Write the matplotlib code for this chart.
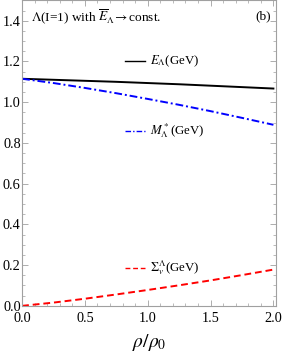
import numpy as np
import matplotlib
matplotlib.use("Agg")
import matplotlib.pyplot as plt
from matplotlib.ticker import MultipleLocator

plt.rcParams['font.family'] = ['Liberation Serif', 'DejaVu Serif']
plt.rcParams['mathtext.fontset'] = 'stix'

# density ratio rho/rho0 and energies (GeV)
rho = [0.0, 0.25, 0.5, 0.75, 1.0, 1.25, 1.5, 1.75, 2.0]
E_lam = [1.115, 1.110, 1.105, 1.100, 1.094, 1.088, 1.081, 1.074, 1.067]
sigma_v = [0.0, 0.016, 0.035, 0.056, 0.078, 0.101, 0.125, 0.151, 0.178]
M_star = [e - s for e, s in zip(E_lam, sigma_v)]

fig = plt.figure(figsize=(2.83, 3.54), dpi=100)
ax = fig.add_axes([0.078, 0.136, 0.897, 0.863])

ax.plot(rho, E_lam, color="black", lw=1.4)
ax.plot(rho, M_star, color="blue", lw=1.4, dashes=(4, 1.5, 1, 1.5))
ax.plot(rho, sigma_v, color="red", lw=1.4, dashes=(3.5, 2))

# in-plot legend entries
ax.plot([0.82, 0.98], [1.203, 1.203], color="black", lw=1.0)
ax.text(1.02, 1.203, r"$E_\Lambda$(GeV)", fontsize=9.3, va="center")
ax.plot([0.82, 0.98], [0.858, 0.858], color="blue", lw=1.0, dashes=(4, 1.5, 1, 1.5))
ax.text(1.02, 0.858, r"$M^*_\Lambda$(GeV)", fontsize=9.3, va="center")
ax.plot([0.82, 0.98], [0.186, 0.186], color="red", lw=1.0, dashes=(3.5, 2))
ax.text(1.02, 0.186, r"$\Sigma^\Lambda_v$(GeV)", fontsize=9.3, va="center")

ax.text(0.07, 1.42, r"$\Lambda$(I=1) with $\overline{E}_\Lambda\!\rightarrow$const.", fontsize=9.6, va="center")
ax.text(1.92, 1.42, "(b)", fontsize=9.6, va="center", ha="center")

ax.set_xlim(0, 2.02)
ax.set_ylim(0, 1.5)
ax.xaxis.set_major_locator(MultipleLocator(0.5))
ax.xaxis.set_minor_locator(MultipleLocator(0.1))
ax.yaxis.set_major_locator(MultipleLocator(0.2))
ax.yaxis.set_minor_locator(MultipleLocator(0.05))
ax.xaxis.set_major_formatter(plt.FuncFormatter(lambda v, p: f"{v:.1f}"))
ax.yaxis.set_major_formatter(plt.FuncFormatter(lambda v, p: f"{v:.1f}"))

for sp in ax.spines.values():
    sp.set_color("#a0a0a0")
    sp.set_linewidth(0.8)
ax.tick_params(which="both", direction="in", top=True, right=True, color="#a0a0a0",
               labelsize=10.3)
ax.tick_params(which="major", length=4, width=0.6)
ax.tick_params(which="minor", length=2, width=0.5)
ax.tick_params(axis="x", pad=4.5)
ax.tick_params(axis="y", pad=1)

ax.set_xlabel(r"$\rho/\rho_0$", fontsize=14, labelpad=5)

fig.savefig("out.png", dpi=100)
